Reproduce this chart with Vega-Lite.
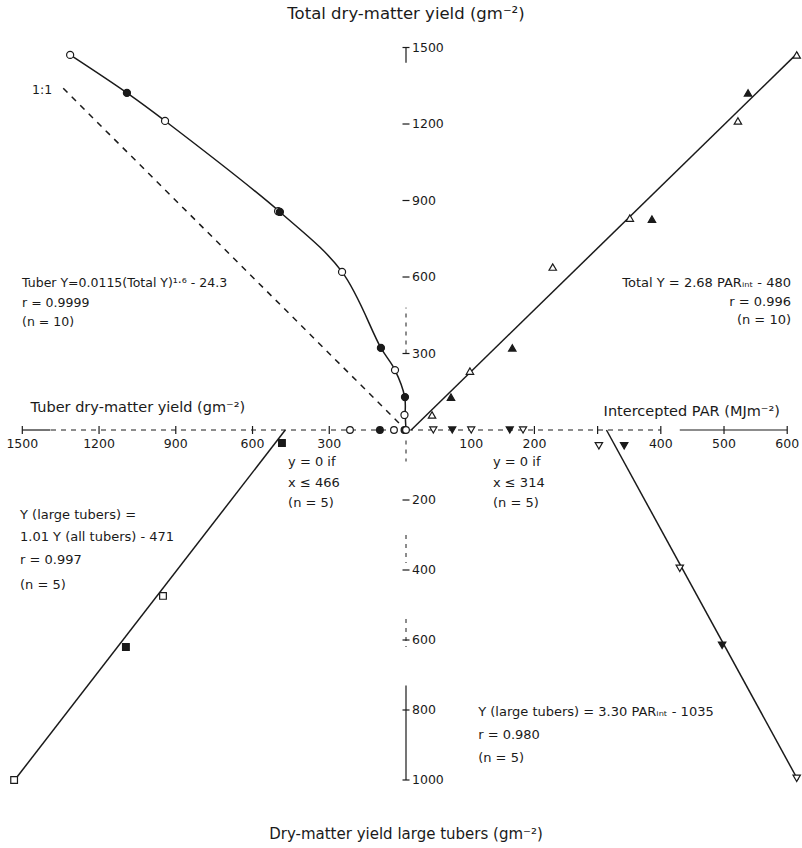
{
  "$schema": "https://vega.github.io/schema/vega-lite/v6.json",
  "width": 802,
  "height": 848,
  "padding": 0,
  "autosize": {"type": "none"},
  "background": "#ffffff",
  "config": {"view": {"stroke": null}},
  "datasets": {
    "ul_pts": [
      {"tuber": 1313, "total": 1471, "fill": "open"},
      {"tuber": 1091, "total": 1322, "fill": "filled"},
      {"tuber": 942, "total": 1212, "fill": "open"},
      {"tuber": 500, "total": 858, "fill": "open"},
      {"tuber": 493, "total": 855, "fill": "filled"},
      {"tuber": 250, "total": 620, "fill": "open"},
      {"tuber": 98, "total": 322, "fill": "filled"},
      {"tuber": 43, "total": 235, "fill": "open"},
      {"tuber": 4, "total": 129, "fill": "filled"},
      {"tuber": 6, "total": 59, "fill": "open"}
    ],
    "ul_curve": [
      {"tuber": 0, "total": 0},
      {"tuber": 3, "total": 59},
      {"tuber": 5, "total": 129},
      {"tuber": 43, "total": 235},
      {"tuber": 98, "total": 322},
      {"tuber": 250, "total": 620},
      {"tuber": 493, "total": 855},
      {"tuber": 942, "total": 1212},
      {"tuber": 1091, "total": 1322},
      {"tuber": 1313, "total": 1471}
    ],
    "ul_oneone": [{"tuber": 0, "total": 0}, {"tuber": 1340, "total": 1340}],
    "ul_vseg_solid": [{"tuber": 0, "total": 1440, "total2": 1500}],
    "ul_vseg_dash": [{"tuber": 0, "total": 300, "total2": 480}],
    "ul_hseg_solid": [{"tuber": 1390, "tuber2": 1500, "total": 0}],
    "ul_hseg_dash": [{"tuber": 0, "tuber2": 1390, "total": 0}],
    "ul_vticks": [
      {"tuber": 0, "total": 300}, {"tuber": 0, "total": 600}, {"tuber": 0, "total": 900},
      {"tuber": 0, "total": 1200}, {"tuber": 0, "total": 1500}
    ],
    "ul_hticks": [
      {"tuber": 300, "total": 0}, {"tuber": 600, "total": 0}, {"tuber": 900, "total": 0},
      {"tuber": 1200, "total": 0}, {"tuber": 1500, "total": 0}
    ],
    "ul_vlabels": [
      {"tuber": 0, "total": 300, "label": "300"}, {"tuber": 0, "total": 600, "label": "600"},
      {"tuber": 0, "total": 900, "label": "900"}, {"tuber": 0, "total": 1200, "label": "1200"},
      {"tuber": 0, "total": 1500, "label": "1500"}
    ],
    "ul_hlabels": [
      {"tuber": 300, "total": 0, "label": "300"}, {"tuber": 600, "total": 0, "label": "600"},
      {"tuber": 900, "total": 0, "label": "900"}, {"tuber": 1200, "total": 0, "label": "1200"},
      {"tuber": 1500, "total": 0, "label": "1500"}
    ],
    "ul_text": [
      {"tuber": 1501, "total": 576, "label": "Tuber Y=0.0115(Total Y)¹·⁶ - 24.3"},
      {"tuber": 1501, "total": 498, "label": "r = 0.9999"},
      {"tuber": 1501, "total": 424, "label": "(n = 10)"},
      {"tuber": 1462, "total": 1333, "label": "1:1"}
    ],
    "ul_title_top": [{"tuber": 0, "total": 1631, "label": "Total dry-matter yield (gm⁻²)"}],
    "ul_title_left": [{"tuber": 1048, "total": 86, "label": "Tuber dry-matter yield (gm⁻²)"}],
    "ur_pts": [
      {"par": 615, "total": 1471, "fill": "open"},
      {"par": 538, "total": 1322, "fill": "filled"},
      {"par": 522, "total": 1212, "fill": "open"},
      {"par": 386, "total": 827, "fill": "filled"},
      {"par": 351, "total": 831, "fill": "open"},
      {"par": 229, "total": 639, "fill": "open"},
      {"par": 165, "total": 322, "fill": "filled"},
      {"par": 98, "total": 231, "fill": "open"},
      {"par": 68, "total": 129, "fill": "filled"},
      {"par": 38, "total": 59, "fill": "open"}
    ],
    "ur_line": [{"par": 5, "total": 0}, {"par": 617, "total": 1480}],
    "ur_hseg_dash": [{"par": 0, "par2": 400, "total": 0}],
    "ur_hseg_solid": [{"par": 430, "par2": 600, "total": 0}],
    "ur_hticks": [
      {"par": 200, "total": 0}, {"par": 300, "total": 0}, {"par": 400, "total": 0},
      {"par": 500, "total": 0}, {"par": 600, "total": 0}
    ],
    "ur_hlabels": [
      {"par": 100, "total": 0, "label": "100"}, {"par": 200, "total": 0, "label": "200"},
      {"par": 400, "total": 0, "label": "400"}, {"par": 500, "total": 0, "label": "500"},
      {"par": 600, "total": 0, "label": "600"}
    ],
    "ur_text": [
      {"par": 606, "total": 576, "label": "Total Y = 2.68 PARᵢₙₜ - 480"},
      {"par": 606, "total": 502, "label": "r = 0.996"},
      {"par": 606, "total": 431, "label": "(n = 10)"}
    ],
    "ur_title": [{"par": 449, "total": 71, "label": "Intercepted PAR (MJm⁻²)"}],
    "ll_pts": [
      {"tuber": 485, "large": 37, "fill": "filled"},
      {"tuber": 950, "large": 474, "fill": "open"},
      {"tuber": 1095, "large": 620, "fill": "filled"},
      {"tuber": 1532, "large": 1000, "fill": "open"}
    ],
    "ll_line": [{"tuber": 472, "large": 0}, {"tuber": 1535, "large": 1005}],
    "ll_axis_pts": [
      {"tuber": 219, "large": 0, "fill": "open"},
      {"tuber": 102, "large": 0, "fill": "filled"},
      {"tuber": 47, "large": 0, "fill": "open"},
      {"tuber": 6, "large": 0, "fill": "filled"},
      {"tuber": 0, "large": 0, "fill": "open"}
    ],
    "ll_vseg_dash": [
      {"tuber": 0, "large": 30, "large2": 90},
      {"tuber": 0, "large": 300, "large2": 380},
      {"tuber": 0, "large": 540, "large2": 620}
    ],
    "ll_vseg_solid": [{"tuber": 0, "large": 730, "large2": 1000}],
    "ll_vticks": [
      {"tuber": 0, "large": 200}, {"tuber": 0, "large": 400}, {"tuber": 0, "large": 600},
      {"tuber": 0, "large": 800}, {"tuber": 0, "large": 1000}
    ],
    "ll_vlabels": [
      {"tuber": 0, "large": 200, "label": "200"}, {"tuber": 0, "large": 400, "label": "400"},
      {"tuber": 0, "large": 600, "label": "600"}, {"tuber": 0, "large": 800, "label": "800"},
      {"tuber": 0, "large": 1000, "label": "1000"}
    ],
    "ll_text": [
      {"tuber": 1509, "large": 243, "label": "Y (large tubers) ="},
      {"tuber": 1509, "large": 306, "label": "1.01 Y (all tubers) - 471"},
      {"tuber": 1509, "large": 371, "label": "r = 0.997"},
      {"tuber": 1509, "large": 443, "label": "(n = 5)"},
      {"tuber": 461, "large": 91, "label": "y = 0 if"},
      {"tuber": 461, "large": 151, "label": "x ≤ 466"},
      {"tuber": 461, "large": 209, "label": "(n = 5)"}
    ],
    "ll_title": [{"tuber": 0, "large": 1154, "label": "Dry-matter yield large tubers (gm⁻²)"}],
    "lr_pts": [
      {"par": 302, "large": 45, "fill": "open"},
      {"par": 342, "large": 45, "fill": "filled"},
      {"par": 430, "large": 395, "fill": "open"},
      {"par": 497, "large": 615, "fill": "filled"},
      {"par": 615, "large": 995, "fill": "open"}
    ],
    "lr_line": [{"par": 314, "large": 0}, {"par": 617, "large": 1000}],
    "lr_axis_pts": [
      {"par": 40, "large": 0, "fill": "open"},
      {"par": 70, "large": 0, "fill": "filled"},
      {"par": 100, "large": 0, "fill": "open"},
      {"par": 161, "large": 0, "fill": "filled"},
      {"par": 182, "large": 0, "fill": "open"}
    ],
    "lr_text": [
      {"par": 134.5, "large": 91, "label": "y = 0 if"},
      {"par": 134.5, "large": 151, "label": "x ≤ 314"},
      {"par": 134.5, "large": 209, "label": "(n = 5)"},
      {"par": 111, "large": 806, "label": "Y (large tubers) = 3.30 PARᵢₙₜ - 1035"},
      {"par": 111, "large": 871, "label": "r = 0.980"},
      {"par": 111, "large": 937, "label": "(n = 5)"}
    ]
  },
  "layer": [
    {
      "encoding": {
        "x": {"field": "tuber", "type": "quantitative", "scale": {"domain": [-1548.1, 1587.2], "reverse": true, "nice": false, "zero": false}, "axis": null},
        "y": {"field": "total", "type": "quantitative", "scale": {"domain": [-1639.2, 1686.3], "nice": false, "zero": false}, "axis": null}
      },
      "layer": [
        {"data": {"name": "ul_hseg_dash"}, "mark": {"type": "rule", "stroke": "#1a1a1a", "strokeWidth": 1, "strokeDash": [5, 5]}, "encoding": {"x2": {"field": "tuber2"}}},
        {"data": {"name": "ul_hseg_solid"}, "mark": {"type": "rule", "stroke": "#1a1a1a", "strokeWidth": 1.2}, "encoding": {"x2": {"field": "tuber2"}}},
        {"data": {"name": "ul_vseg_dash"}, "mark": {"type": "rule", "stroke": "#1a1a1a", "strokeWidth": 1, "strokeDash": [4, 5]}, "encoding": {"y2": {"field": "total2"}}},
        {"data": {"name": "ul_vseg_solid"}, "mark": {"type": "rule", "stroke": "#1a1a1a", "strokeWidth": 1.2}, "encoding": {"y2": {"field": "total2"}}},
        {"data": {"name": "ul_vticks"}, "mark": {"type": "tick", "orient": "horizontal", "size": 7, "thickness": 1.2, "color": "#1a1a1a", "opacity": 1}},
        {"data": {"name": "ul_hticks"}, "mark": {"type": "tick", "orient": "vertical", "size": 8, "thickness": 1.2, "color": "#1a1a1a", "opacity": 1}},
        {"data": {"name": "ul_oneone"}, "mark": {"type": "line", "stroke": "#1a1a1a", "strokeWidth": 1.5, "strokeDash": [6, 6]}},
        {"data": {"name": "ul_curve"}, "mark": {"type": "line", "interpolate": "catmull-rom", "stroke": "#1a1a1a", "strokeWidth": 1.5}, "encoding": {"order": {"field": "total", "type": "quantitative"}}},
        {"data": {"name": "ul_pts"}, "mark": {"type": "point", "shape": "circle", "filled": true, "size": 50, "opacity": 1, "stroke": "#1a1a1a", "strokeWidth": 1.2},
         "encoding": {"fill": {"field": "fill", "type": "nominal", "scale": {"domain": ["filled", "open"], "range": ["#1a1a1a", "#ffffff"]}, "legend": null}}},
        {"data": {"name": "ul_vlabels"}, "mark": {"type": "text", "align": "left", "baseline": "middle", "dx": 6, "font": "DejaVu Sans", "fontSize": 12.5, "fill": "#1a1a1a"}, "encoding": {"text": {"field": "label"}}},
        {"data": {"name": "ul_hlabels"}, "mark": {"type": "text", "align": "center", "baseline": "middle", "dy": 14, "font": "DejaVu Sans", "fontSize": 12.5, "fill": "#1a1a1a"}, "encoding": {"text": {"field": "label"}}},
        {"data": {"name": "ul_text"}, "mark": {"type": "text", "align": "left", "baseline": "middle", "font": "DejaVu Sans", "fontSize": 12.5, "fill": "#1a1a1a"}, "encoding": {"text": {"field": "label"}}},
        {"data": {"name": "ul_title_top"}, "mark": {"type": "text", "align": "center", "baseline": "middle", "font": "DejaVu Sans", "fontSize": 16.5, "fill": "#1a1a1a"}, "encoding": {"text": {"field": "label"}}},
        {"data": {"name": "ul_title_left"}, "mark": {"type": "text", "align": "center", "baseline": "middle", "font": "DejaVu Sans", "fontSize": 14.5, "fill": "#1a1a1a"}, "encoding": {"text": {"field": "label"}}}
      ]
    },
    {
      "encoding": {
        "x": {"field": "par", "type": "quantitative", "scale": {"domain": [-645.6, 623.4], "nice": false, "zero": false}, "axis": null},
        "y": {"field": "total", "type": "quantitative", "scale": {"domain": [-1639.2, 1686.3], "nice": false, "zero": false}, "axis": null}
      },
      "layer": [
        {"data": {"name": "ur_hseg_dash"}, "mark": {"type": "rule", "stroke": "#1a1a1a", "strokeWidth": 1, "strokeDash": [5, 5]}, "encoding": {"x2": {"field": "par2"}}},
        {"data": {"name": "ur_hseg_solid"}, "mark": {"type": "rule", "stroke": "#1a1a1a", "strokeWidth": 1.2}, "encoding": {"x2": {"field": "par2"}}},
        {"data": {"name": "ur_hticks"}, "mark": {"type": "tick", "orient": "vertical", "size": 8, "thickness": 1.2, "color": "#1a1a1a", "opacity": 1}},
        {"data": {"name": "ur_line"}, "mark": {"type": "line", "stroke": "#1a1a1a", "strokeWidth": 1.5}},
        {"data": {"name": "ur_pts"}, "mark": {"type": "point", "shape": "triangle-up", "filled": true, "size": 55, "opacity": 1, "stroke": "#1a1a1a", "strokeWidth": 1.2},
         "encoding": {"fill": {"field": "fill", "type": "nominal", "scale": {"domain": ["filled", "open"], "range": ["#1a1a1a", "#ffffff"]}, "legend": null}}},
        {"data": {"name": "ur_hlabels"}, "mark": {"type": "text", "align": "center", "baseline": "middle", "dy": 14, "font": "DejaVu Sans", "fontSize": 12.5, "fill": "#1a1a1a"}, "encoding": {"text": {"field": "label"}}},
        {"data": {"name": "ur_text"}, "mark": {"type": "text", "align": "right", "baseline": "middle", "font": "DejaVu Sans", "fontSize": 13, "fill": "#1a1a1a"}, "encoding": {"text": {"field": "label"}}},
        {"data": {"name": "ur_title"}, "mark": {"type": "text", "align": "center", "baseline": "middle", "font": "DejaVu Sans", "fontSize": 14.5, "fill": "#1a1a1a"}, "encoding": {"text": {"field": "label"}}}
      ]
    },
    {
      "encoding": {
        "x": {"field": "tuber", "type": "quantitative", "scale": {"domain": [-1548.1, 1587.2], "reverse": true, "nice": false, "zero": false}, "axis": null},
        "y": {"field": "large", "type": "quantitative", "scale": {"domain": [-1228.6, 1194.3], "reverse": true, "nice": false, "zero": false}, "axis": null}
      },
      "layer": [
        {"data": {"name": "ll_vseg_dash"}, "mark": {"type": "rule", "stroke": "#1a1a1a", "strokeWidth": 1, "strokeDash": [4, 5]}, "encoding": {"y2": {"field": "large2"}}},
        {"data": {"name": "ll_vseg_solid"}, "mark": {"type": "rule", "stroke": "#1a1a1a", "strokeWidth": 1.2}, "encoding": {"y2": {"field": "large2"}}},
        {"data": {"name": "ll_vticks"}, "mark": {"type": "tick", "orient": "horizontal", "size": 7, "thickness": 1.2, "color": "#1a1a1a", "opacity": 1}},
        {"data": {"name": "ll_line"}, "mark": {"type": "line", "stroke": "#1a1a1a", "strokeWidth": 1.5}},
        {"data": {"name": "ll_pts"}, "mark": {"type": "point", "shape": "square", "filled": true, "size": 45, "opacity": 1, "stroke": "#1a1a1a", "strokeWidth": 1.2},
         "encoding": {"fill": {"field": "fill", "type": "nominal", "scale": {"domain": ["filled", "open"], "range": ["#1a1a1a", "#ffffff"]}, "legend": null}}},
        {"data": {"name": "ll_axis_pts"}, "mark": {"type": "point", "shape": "circle", "filled": true, "size": 45, "opacity": 1, "stroke": "#1a1a1a", "strokeWidth": 1.2},
         "encoding": {"fill": {"field": "fill", "type": "nominal", "scale": {"domain": ["filled", "open"], "range": ["#1a1a1a", "#ffffff"]}, "legend": null}}},
        {"data": {"name": "ll_vlabels"}, "mark": {"type": "text", "align": "left", "baseline": "middle", "dx": 6, "font": "DejaVu Sans", "fontSize": 12.5, "fill": "#1a1a1a"}, "encoding": {"text": {"field": "label"}}},
        {"data": {"name": "ll_text"}, "mark": {"type": "text", "align": "left", "baseline": "middle", "font": "DejaVu Sans", "fontSize": 13, "fill": "#1a1a1a"}, "encoding": {"text": {"field": "label"}}},
        {"data": {"name": "ll_title"}, "mark": {"type": "text", "align": "center", "baseline": "middle", "font": "DejaVu Sans", "fontSize": 15, "fill": "#1a1a1a"}, "encoding": {"text": {"field": "label"}}}
      ]
    },
    {
      "encoding": {
        "x": {"field": "par", "type": "quantitative", "scale": {"domain": [-645.6, 623.4], "nice": false, "zero": false}, "axis": null},
        "y": {"field": "large", "type": "quantitative", "scale": {"domain": [-1228.6, 1194.3], "reverse": true, "nice": false, "zero": false}, "axis": null}
      },
      "layer": [
        {"data": {"name": "lr_line"}, "mark": {"type": "line", "stroke": "#1a1a1a", "strokeWidth": 1.5}},
        {"data": {"name": "lr_pts"}, "mark": {"type": "point", "shape": "triangle-down", "filled": true, "size": 55, "opacity": 1, "stroke": "#1a1a1a", "strokeWidth": 1.2},
         "encoding": {"fill": {"field": "fill", "type": "nominal", "scale": {"domain": ["filled", "open"], "range": ["#1a1a1a", "#ffffff"]}, "legend": null}}},
        {"data": {"name": "lr_axis_pts"}, "mark": {"type": "point", "shape": "triangle-down", "filled": true, "size": 50, "opacity": 1, "stroke": "#1a1a1a", "strokeWidth": 1.2},
         "encoding": {"fill": {"field": "fill", "type": "nominal", "scale": {"domain": ["filled", "open"], "range": ["#1a1a1a", "#ffffff"]}, "legend": null}}},
        {"data": {"name": "lr_text"}, "mark": {"type": "text", "align": "left", "baseline": "middle", "font": "DejaVu Sans", "fontSize": 13, "fill": "#1a1a1a"}, "encoding": {"text": {"field": "label"}}}
      ]
    }
  ],
  "resolve": {"scale": {"x": "independent", "y": "independent"}}
}
